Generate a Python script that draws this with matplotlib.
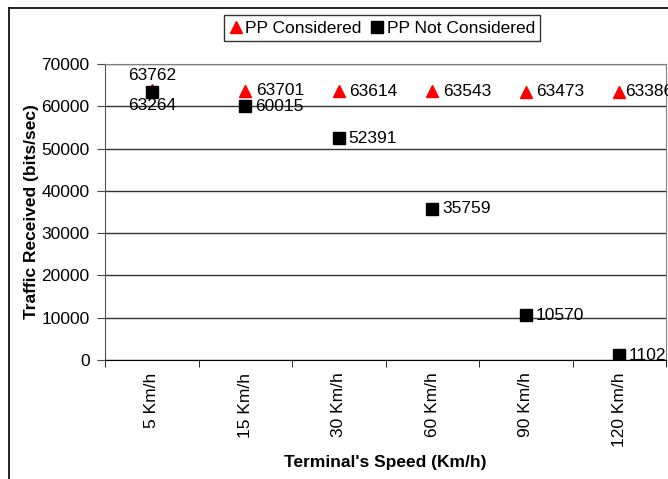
import matplotlib.pyplot as plt
from matplotlib.lines import Line2D

plt.rcParams["font.family"] = ["Liberation Sans", "DejaVu Sans"]

speeds = ["5 Km/h", "15 Km/h", "30 Km/h", "60 Km/h", "90 Km/h", "120 Km/h"]
pp_considered = [63762, 63701, 63614, 63543, 63473, 63386]
pp_not_considered = [63264, 60015, 52391, 35759, 10570, 1102]

FS = 12.5
W, H = 668, 479
fig = plt.figure(figsize=(W / 100, H / 100), dpi=100)
ax = fig.add_axes([105 / W, 1 - 360 / H, 561 / W, 296 / H])

x = list(range(len(speeds)))
ax.plot(x, pp_considered, linestyle="none", marker="^", color="#ff0000",
        markersize=9, label="PP Considered", zorder=3)
ax.plot(x, pp_not_considered, linestyle="none", marker="s", color="black",
        markersize=8, label="PP Not Considered", zorder=4)

# data labels (the last one runs off the right edge, as in the original)
for i in x:
    if i == 0:
        ax.annotate(str(pp_considered[i]), (i, pp_considered[i]), xytext=(0, 5),
                    textcoords="offset points", ha="center", va="bottom", fontsize=FS)
        ax.annotate(str(pp_not_considered[i]), (i, pp_not_considered[i]), xytext=(0, -4),
                    textcoords="offset points", ha="center", va="top", fontsize=FS)
    else:
        dx = 7.5 if i < 5 else 4.5
        ax.annotate(str(pp_considered[i]), (i, pp_considered[i]), xytext=(dx, 0),
                    textcoords="offset points", ha="left", va="center", fontsize=FS,
                    annotation_clip=False)
        ax.annotate(str(pp_not_considered[i]), (i, pp_not_considered[i]), xytext=(7, 0),
                    textcoords="offset points", ha="left", va="center", fontsize=FS,
                    annotation_clip=False)

ax.set_xlim(-0.5, 5.5)
ax.set_ylim(0, 70000)
ax.set_yticks(range(0, 70001, 10000))
ax.set_xticks(x)
ax.set_xticklabels(speeds, rotation=90, fontsize=FS)
ax.set_xticks([k - 0.5 for k in range(7)], minor=True)
ax.tick_params(axis="x", which="major", length=0, pad=9)
ax.tick_params(axis="x", which="minor", length=5, color="black")
ax.tick_params(axis="y", length=6, labelsize=FS, pad=5, color="#444444")
ax.grid(axis="y", color="#333333", linewidth=1)
ax.set_axisbelow(True)

for s in ["top", "right"]:
    ax.spines[s].set_color("#808080")
ax.spines["left"].set_color("#555555")
ax.spines["bottom"].set_color("black")

ax.set_xlabel("Terminal's Speed (Km/h)", fontsize=FS, fontweight="bold", labelpad=6)
ax.set_ylabel("Traffic Received (bits/sec)", fontsize=FS, fontweight="bold", labelpad=2)

leg = fig.legend(loc="center", bbox_to_anchor=(382 / W, 1 - 28 / H), ncol=2,
                 fontsize=FS, frameon=True, fancybox=False, edgecolor="black",
                 handlelength=0.8, handletextpad=0.15, columnspacing=0.5,
                 borderpad=0.3, borderaxespad=0)
leg.get_frame().set_linewidth(1)

# outer chart border
fig.add_artist(Line2D([9 / W, 1], [1 - 8 / H, 1 - 8 / H], color="black", linewidth=1.2))
fig.add_artist(Line2D([9 / W, 9 / W], [0, 1 - 8 / H], color="black", linewidth=1.2))

fig.savefig("out.png", dpi=100)
